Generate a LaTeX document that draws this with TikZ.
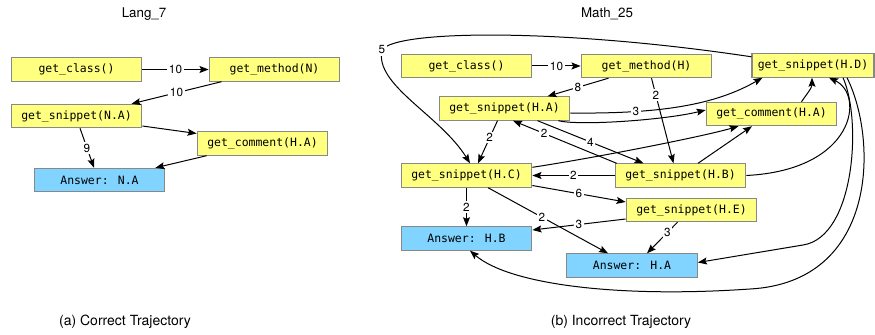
\documentclass[tikz,border=0pt]{standalone}
\usepackage{fontspec}
\setmainfont{TeX Gyre Heros}
\setsansfont{TeX Gyre Heros}
\newfontfamily\codefont{DejaVu Sans Mono}
\usetikzlibrary{arrows.meta,calc}
\definecolor{fnyellow}{HTML}{FFFF80}
\definecolor{ansblue}{HTML}{80D4FF}
\definecolor{boxgray}{HTML}{888888}
\tikzset{
  fnbox/.style={draw=boxgray, fill=fnyellow, line width=0.8pt, minimum width=98pt,
    minimum height=17.5pt, inner sep=0pt, font=\codefont\fontsize{8.6}{10}\selectfont},
  ansbox/.style={fnbox, fill=ansblue},
  lbl/.style={fill=white, inner sep=1.2pt, font=\sffamily\fontsize{8.8}{10}\selectfont},
  arr/.style={-{Stealth[length=6.8pt,width=5.2pt,inset=1.2pt]}, line width=0.75pt},
  ttltext/.style={font=\sffamily\fontsize{10}{12}\selectfont},
  captext/.style={font=\sffamily\fontsize{10.5}{12}\selectfont}
}
\begin{document}
\begin{tikzpicture}[x=0.75pt,y=-0.75pt]
\useasboundingbox (0,0) rectangle (875,335);

% titles and captions
\node[ttltext] (t1) at (144,14) {Lang\_7};
\node[ttltext] (t2) at (607,14) {Math\_25};
\node[captext] (c1) at (125,322) {(a) Correct Trajectory};
\node[captext] (c2) at (621,322) {(b) Incorrect Trajectory};

% left panel
\node[fnbox] (lc) at (76.5,69.5) {get\_class()};
\node[fnbox] (lm) at (274.5,69.5) {get\_method(N)};
\node[fnbox] (ls) at (76.5,116) {get\_snippet(N.A)};
\node[fnbox] (lco) at (262.5,143.5) {get\_comment(H.A)};
\node[ansbox] (la) at (99.5,180) {Answer: N.A};

\draw[arr] (lc.east) -- node[lbl] {10} (lm.west);
\draw[arr] ($(lm.south)+(-53,0)$) -- node[lbl] {10} ($(ls.north)+(55,0)$);
\draw[arr] ($(ls.east)+(0,10)$) -- ($(lco.west)+(0,-10)$);
\draw[arr] ($(ls.south)+(3.5,0)$) -- node[lbl] {9} ($(la.north)+(-5.5,0)$);
\draw[arr] ($(lco.south west)+(10,0)$) -- ($(la.north east)+(-10,0)$);

% right panel
\node[fnbox] (rc) at (466.5,66) {get\_class()};
\node[fnbox] (rm) at (646.5,66) {get\_method(H)};
\node[fnbox, minimum width=91.5pt] (rd) at (813,65.5) {get\_snippet(H.D)};
\node[fnbox] (ra) at (504.5,108.5) {get\_snippet(H.A)};
\node[fnbox] (rco) at (771.5,114) {get\_comment(H.A)};
\node[fnbox] (rC) at (466.5,175.5) {get\_snippet(H.C)};
\node[fnbox] (rB) at (680.5,175.5) {get\_snippet(H.B)};
\node[fnbox] (rE) at (691.5,210) {get\_snippet(H.E)};
\node[ansbox] (ansB) at (466.5,238.5) {Answer: H.B};
\node[ansbox] (ansA) at (632,265.5) {Answer: H.A};

\draw[arr] (rc.east) -- node[lbl] {10} (rm.west);
\draw[arr] ($(rm.south)+(-38,0)$) -- node[lbl] {8} ($(ra.north)+(43,0)$);
\draw[arr] ($(rm.south)+(5,0)$) -- node[lbl,pos=0.2] {2} ($(rB.north)+(-7,0)$);
\draw[arr] ($(ra.east)+(0,4.5)$) .. controls (660,114) and (715,105) .. node[lbl,pos=0.27] {3} ($(rd.south west)+(11,0)$);
\draw[arr] ($(ra.south east)+(-12,0)$) .. controls (580,126) and (665,120) .. ($(rco.west)+(0,-4)$);
\draw[arr] ($(ra.south)+(-7,0)$) -- node[lbl,pos=0.4] {2} ($(rC.north)+(11.5,0)$);
\draw[arr] ($(ra.south)+(33,0)$) -- node[lbl] {4} ($(rB.north)+(-37,0)$);
\draw[arr] ($(rB.north west)+(2,0)$) -- node[lbl,pos=0.7] {2} ($(ra.south)+(8.5,0)$);
\draw[arr] ($(rC.north east)+(0,4)$) .. controls (600,157) and (705,136) .. ($(rco.south)+(-33,0)$);
\draw[arr] ($(rB.north)+(17.5,0)$) -- ($(rco.south)+(-19.5,0)$);
\draw[arr] (rB.west) -- node[lbl] {2} (rC.east);
\draw[arr] ($(rco.north)+(30,0)$) .. controls (806,95) and (812,88) .. ($(rd.south)+(-1,0)$);
\draw[arr] (rB.east) .. controls (855,170) and (865,95) .. ($(rd.south)+(16,0)$);
\draw[arr] ($(rd.south)+(30,0)$) .. controls (862,120) and (855,237) .. (803,245) -- ($(ansA.east)+(0,-3)$);
\draw[arr] ($(rd.south)+(34,0)$) .. controls (878,140) and (878,282) .. (750,289)
   .. controls (620,298) and (510,285) .. ($(ansB.south)+(3.5,0)$);
\draw[arr] ($(rd.north west)+(0,3.5)$) .. controls (560,28) and (395,30) .. (382,50)
   node[lbl] {5}
   .. controls (374,85) and (440,115) .. ($(rC.north)+(3.5,0)$);
\draw[arr] (rC.south) -- node[lbl] {2} (ansB.north);
\draw[arr] ($(rC.south)+(21.5,0)$) -- node[lbl,pos=0.45] {2} ($(ansA.north)+(-24,0)$);
\draw[arr] ($(rC.east)+(0,10)$) -- node[lbl] {6} ($(rE.west)+(0,-8)$);
\draw[arr] ($(rE.west)+(0,9)$) -- node[lbl] {3} ($(ansB.east)+(0,-8.5)$);
\draw[arr] ($(rE.south)+(-14,0)$) -- node[lbl,pos=0.33] {3} ($(ansA.north)+(15,0)$);
\end{tikzpicture}
\end{document}
